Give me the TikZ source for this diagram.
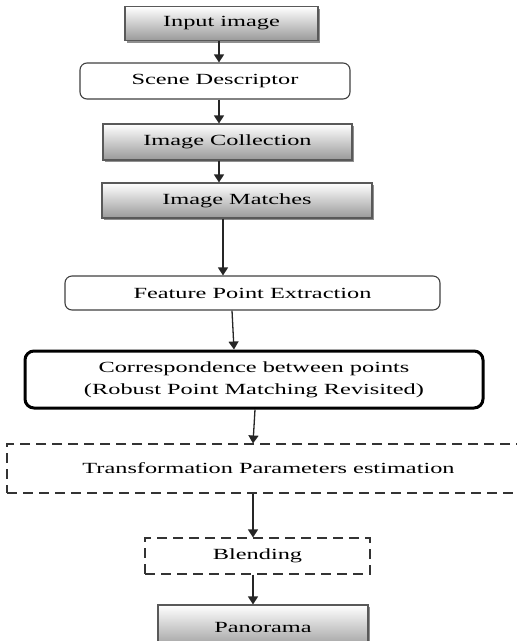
\documentclass[tikz,border=0pt]{standalone}
\usepackage{fontspec}
\setmainfont{Liberation Serif}[FakeStretch=1.57]
\usetikzlibrary{arrows.meta,shadows}
\tikzset{
  base/.style={draw, line width=1.1pt, align=center, inner sep=0pt,
    font=\fontsize{15.5}{22}\selectfont},
  gbox/.style={base, draw=black!65, top color=white, bottom color=black!40,
    drop shadow={shadow xshift=2pt, shadow yshift=-2pt, fill=black!55, opacity=0.8}},
  rbox/.style={base, draw=black!75, rounded corners=7pt, fill=white},
  thickbox/.style={base, draw=black, line width=3pt, rounded corners=9pt, fill=white},
  dbox/.style={base, draw=black!80, dash pattern=on 10pt off 6pt},
  arr/.style={draw=black!85, line width=1.3pt, -{Triangle[width=10pt,length=8pt]}}
}
\begin{document}
\begin{tikzpicture}[x=1pt,y=-1pt]
\useasboundingbox (0,0) rectangle (517,641);
\node[gbox, minimum width=193pt, minimum height=34pt] (in) at (221.5,23.5) {Input image};
\node[rbox, minimum width=270pt, minimum height=36pt] (sc) at (215,81) {Scene Descriptor};
\node[gbox, minimum width=249pt, minimum height=36pt] (coll) at (227.5,142) {Image Collection};
\node[gbox, minimum width=270pt, minimum height=35pt] (match) at (237,200.5) {Image Matches};
\node[rbox, minimum width=375pt, minimum height=34pt] (feat) at (252.5,293) {Feature Point Extraction};
\node[thickbox, minimum width=458pt, minimum height=57pt] (corr) at (254,379.5) {Correspondence between points\\(Robust Point Matching Revisited)};
\node[dbox, minimum width=523pt, minimum height=49pt] (trans) at (268.5,468.5) {Transformation Parameters estimation};
\node[dbox, minimum width=225pt, minimum height=36pt] (blend) at (257.5,556) {Blending};
\node[gbox, minimum width=210pt, minimum height=45pt] (pano) at (263,627.5) {Panorama};

\draw[arr] ([xshift=-2.5pt]in.south) -- ([xshift=4pt]sc.north);
\draw[arr] ([xshift=4pt]sc.south) -- ([xshift=-8.5pt]coll.north);
\draw[arr] ([xshift=-8.5pt]coll.south) -- ([xshift=-18pt]match.north);
\draw[arr] ([xshift=-14pt]match.south) -- ([xshift=-29.5pt]feat.north);
\draw[arr] ([xshift=-20.5pt]feat.south) -- ([xshift=-20pt]corr.north);
\draw[arr] ([xshift=1pt]corr.south) -- ([xshift=-15.5pt]trans.north);
\draw[arr] ([xshift=-15.5pt]trans.south) -- ([xshift=-4.5pt]blend.north);
\draw[arr] ([xshift=-4.5pt]blend.south) -- ([xshift=-10pt]pano.north);
\end{tikzpicture}
\end{document}
